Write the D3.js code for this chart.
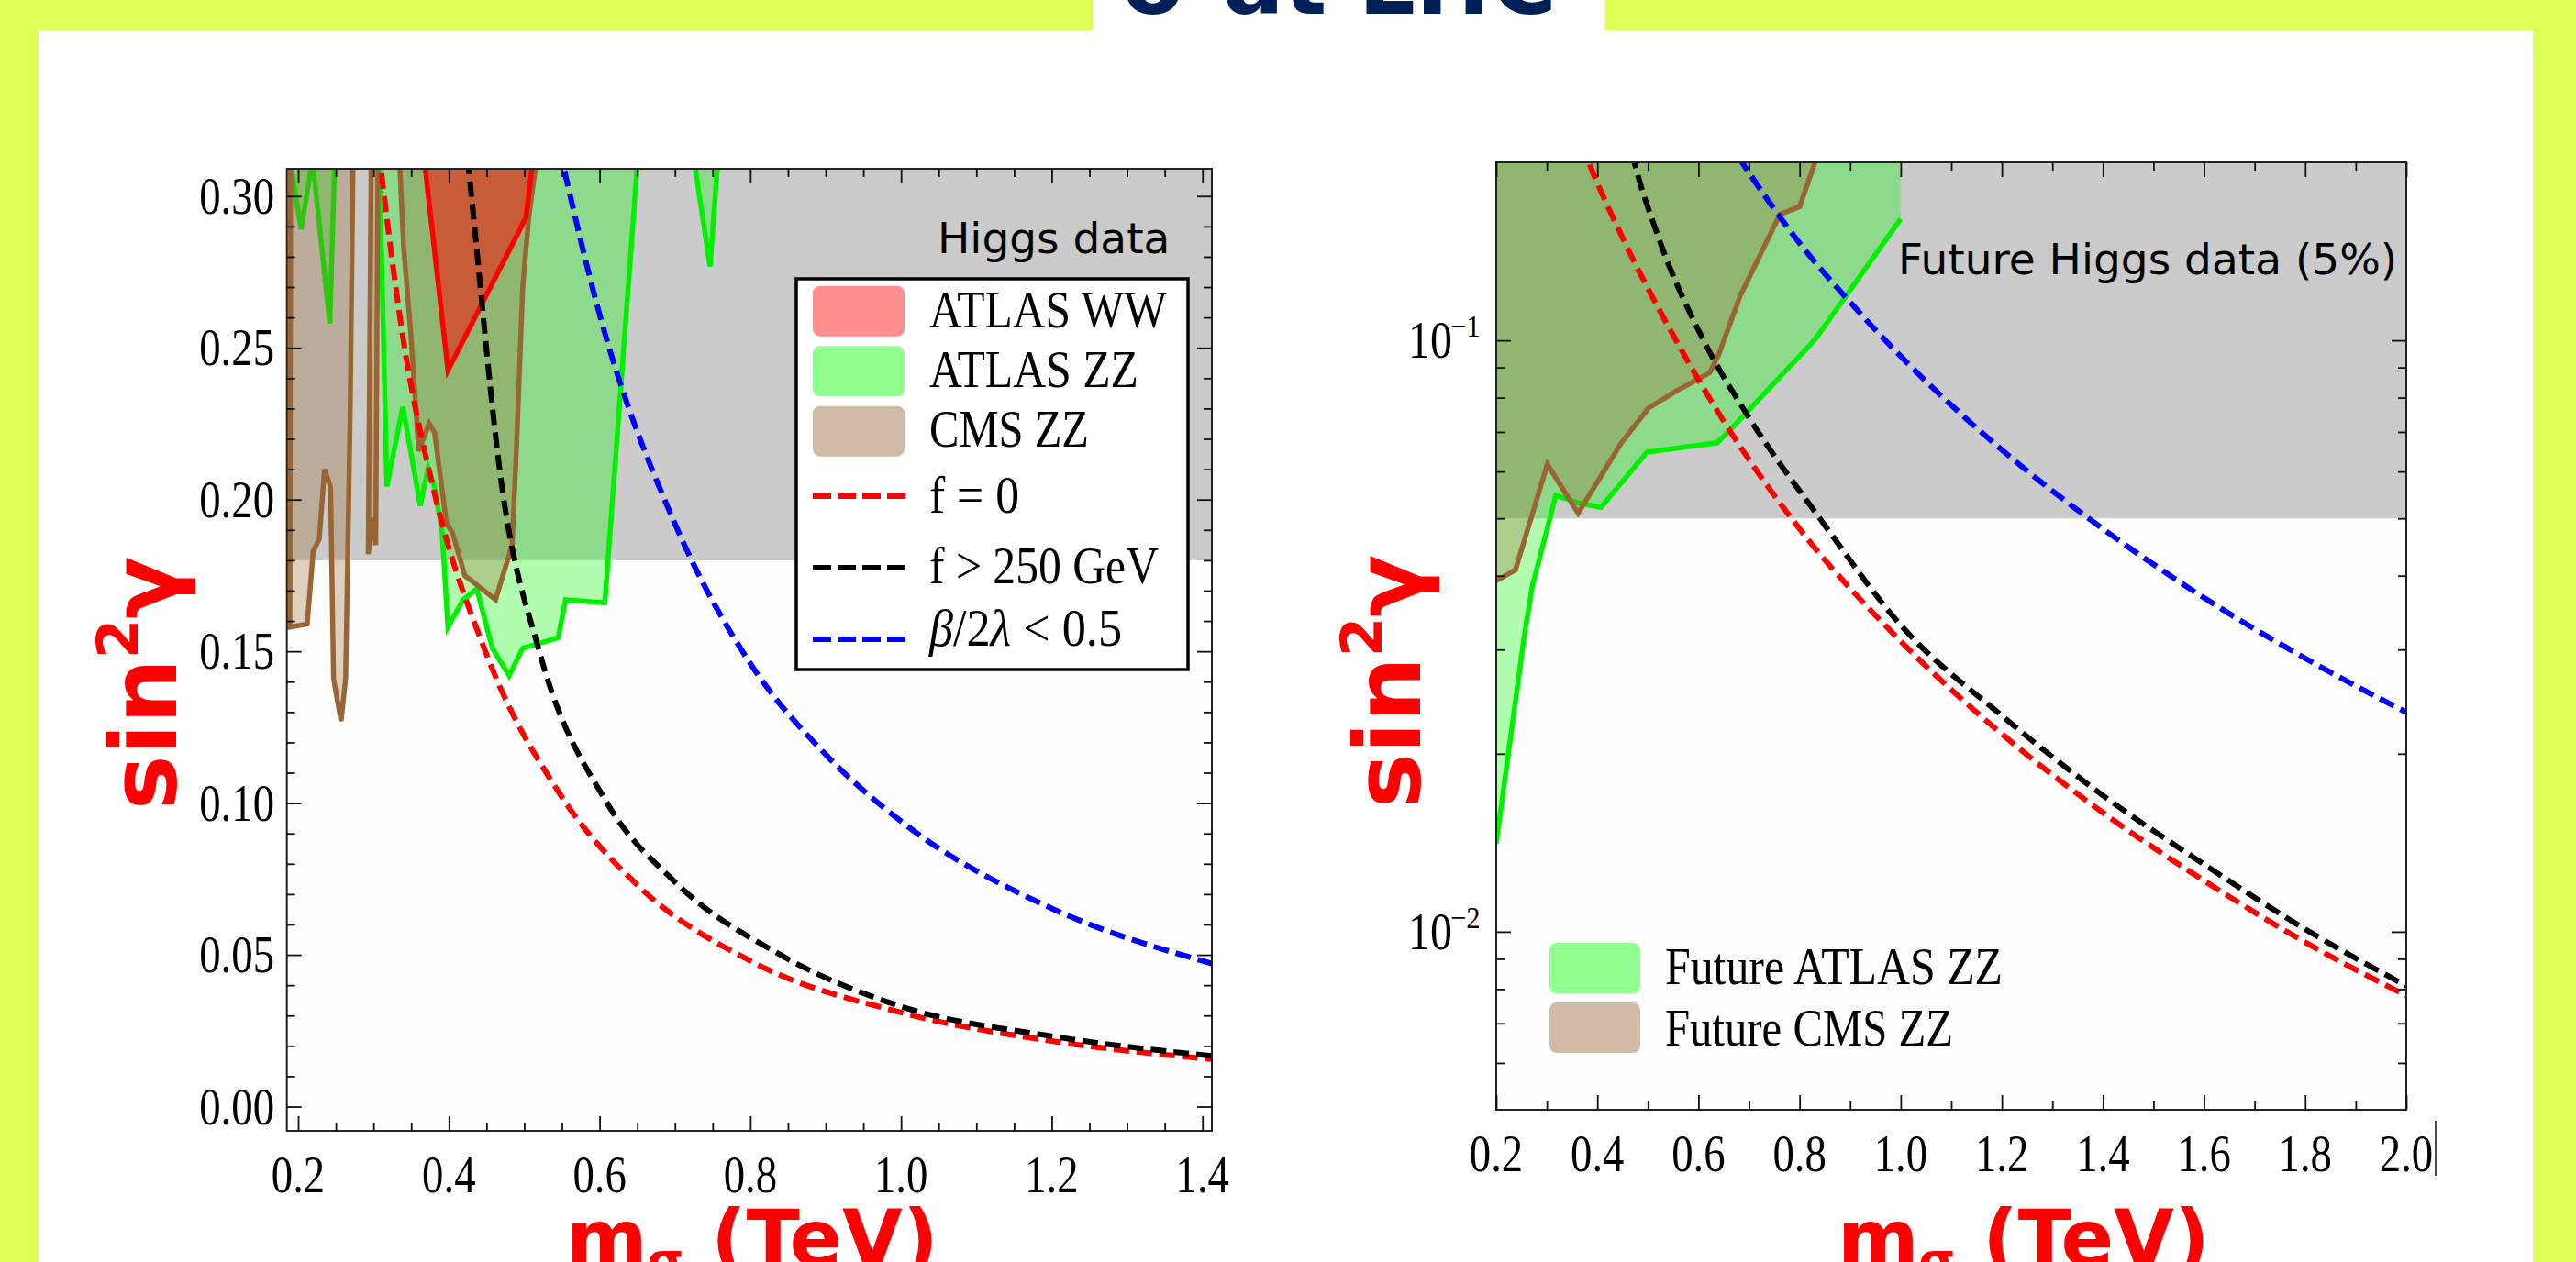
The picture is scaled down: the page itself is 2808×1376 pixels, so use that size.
<!DOCTYPE html>
<html>
<head>
<meta charset="utf-8">
<script src="https://cdn.jsdelivr.net/npm/d3@7"></script>
<style>
  html, body { margin: 0; padding: 0; background: #ddff55; overflow: hidden; }
  svg { display: block; }
</style>
</head>
<body>
<div id="chart"></div>
<script>
// ---------- values ----------
const titleText = 'σ at LHC';

// left panel (current data), linear axes
const leftXTicks = [0.2, 0.4, 0.6, 0.8, 1.0, 1.2, 1.4];
const leftXLabels = ['0.2', '0.4', '0.6', '0.8', '1.0', '1.2', '1.4'];
const leftYTicks = [0, 0.05, 0.10, 0.15, 0.20, 0.25, 0.30];
const leftYLabels = ['0.00', '0.05', '0.10', '0.15', '0.20', '0.25', '0.30'];
const leftHiggsBound = 0.18;

// boundaries [m (TeV), sin^2 gamma]; regions fill upward to the top of the frame
const atlasZZ_w = [[0.187, 0.315], [0.204, 0.289], [0.219, 0.312], [0.242, 0.258], [0.249, 0.315]];
const atlasZZ_lobe = [[0.3075, 0.315], [0.3177, 0.2043], [0.339, 0.2305], [0.362, 0.198], [0.3725, 0.2104],
  [0.3805, 0.2043], [0.3908, 0.190], [0.3988, 0.158], [0.419, 0.167], [0.437, 0.1706], [0.4577, 0.151],
  [0.480, 0.142], [0.498, 0.151], [0.545, 0.1545], [0.555, 0.167], [0.607, 0.166], [0.6515, 0.315]];
const atlasZZ_spike = [[0.7234, 0.315], [0.7466, 0.2768], [0.758, 0.315]];
const cmsZZ_left = [[0.190, 0.315], [0.189, 0.158], [0.212, 0.159], [0.220, 0.183], [0.228, 0.187],
  [0.235, 0.210], [0.243, 0.204], [0.247, 0.141], [0.257, 0.127], [0.263, 0.141], [0.269, 0.228], [0.273, 0.315]];
const cmsZZ_spike = [[0.297, 0.315], [0.293, 0.182], [0.299, 0.194], [0.303, 0.185], [0.306, 0.315]];
const cmsZZ_lobe = [[0.334, 0.315], [0.340, 0.283], [0.350, 0.253], [0.360, 0.216], [0.374, 0.225],
  [0.381, 0.222], [0.397, 0.192], [0.405, 0.189], [0.421, 0.175], [0.462, 0.167], [0.484, 0.185],
  [0.490, 0.219], [0.498, 0.270], [0.506, 0.293], [0.518, 0.315]];
const atlasWW = [[0.366, 0.315], [0.3988, 0.2426], [0.5023, 0.2929], [0.513, 0.315]];

// right panel (future projections), log y axis
const rightXTicks = [0.2, 0.4, 0.6, 0.8, 1.0, 1.2, 1.4, 1.6, 1.8, 2.0];
const rightXLabels = ['0.2', '0.4', '0.6', '0.8', '1.0', '1.2', '1.4', '1.6', '1.8', '2.0'];
const rightYTicks = [0.01, 0.1];
const rightYExp = ['−2', '−1'];
const rightHiggsBound = 0.05;

const futureAtlasZZ = [[0.2, 0.0141], [0.254, 0.031], [0.271, 0.0383], [0.318, 0.0547], [0.362, 0.0531],
  [0.407, 0.0522], [0.498, 0.0647], [0.637, 0.0671], [0.664, 0.0707], [0.8305, 0.1003], [1.0, 0.1604]];
const futureCmsZZ = [[0.2, 0.0392], [0.238, 0.0409], [0.301, 0.0617], [0.362, 0.051], [0.447, 0.067],
  [0.501, 0.0768], [0.555, 0.082], [0.622, 0.0881], [0.640, 0.0946], [0.682, 0.1186], [0.761, 0.1633],
  [0.800, 0.1683], [0.8305, 0.2]];

// theory curves (same in both panels)
const fZeroMass = [0.30, 0.34, 0.38, 0.45, 0.55, 0.65, 0.80, 1.00, 1.20, 1.40, 1.60, 1.80, 2.00];
const fZeroVal = [0.330, 0.252, 0.203, 0.149, 0.102, 0.073, 0.048, 0.031, 0.0216, 0.0159, 0.0122, 0.0096, 0.0078];
const f250Mass = [0.41, 0.43, 0.47, 0.52, 0.61, 0.70, 0.84, 1.00, 1.20, 1.40, 1.60, 1.80, 2.00];
const f250Val = [0.350, 0.300, 0.205, 0.150, 0.100, 0.074, 0.050, 0.0330, 0.0232, 0.0170, 0.0130, 0.0101, 0.0081];
const betaMass = [0.54, 0.60, 0.70, 0.80, 0.90, 1.00, 1.20, 1.40, 1.60, 1.80, 2.00];
const betaVal = [0.323, 0.261, 0.192, 0.146, 0.116, 0.094, 0.0653, 0.048, 0.0367, 0.029, 0.0235];

const leftLegendFills = ['ATLAS WW', 'ATLAS ZZ', 'CMS ZZ'];
const leftLegendLines = ['f = 0', 'f > 250 GeV', 'β/2λ < 0.5'];
const rightLegendFills = ['Future ATLAS ZZ', 'Future CMS ZZ'];

// ---------- styles ----------
const GREEN = { fill: 'rgba(0,255,0,0.3)', stroke: '#00f000', swatch: '#8fff8f' };
const BROWN = { fill: 'rgba(153,102,51,0.3)', stroke: '#996633', swatch: '#d2bba5' };
const RED = { fill: 'rgba(255,0,0,0.5)', stroke: '#ff0000', swatch: '#ff8f8f' };
const SERIF = '"Liberation Serif", "Times New Roman", serif';
const SANS = '"DejaVu Sans", sans-serif';

const W = 2808, H = 1376;
const svg = d3.select('#chart').append('svg').attr('width', W).attr('height', H);

svg.append('rect').attr('width', W).attr('height', H).attr('fill', '#ddff55');
svg.append('rect').attr('x', 42).attr('y', 33).attr('width', 2719).attr('height', H).attr('fill', '#fff');
svg.append('rect').attr('x', 1191).attr('y', 0).attr('width', 559).attr('height', 40).attr('fill', '#fff');

svg.append('text')
  .attr('x', 1460).attr('y', 15)
  .attr('text-anchor', 'middle')
  .attr('font-family', SANS).attr('font-weight', 'bold').attr('font-size', 98)
  .attr('fill', '#002157')
  .text(titleText);

// serif text squeezed horizontally like the original figure
function serif(g, x, y, str, size, anchor, sx) {
  return g.append('text')
    .attr('transform', 'translate(' + x + ',' + y + ') scale(' + (sx || 0.84) + ',1)')
    .attr('text-anchor', anchor || 'start')
    .attr('font-family', SERIF)
    .attr('font-size', size)
    .attr('fill', '#000')
    .text(str);
}

// legend text pinned to the width measured on the figure
function legendText(g, x, y, str, width) {
  return g.append('text')
    .attr('x', x).attr('y', y)
    .attr('font-family', SERIF).attr('font-size', 57).attr('fill', '#000')
    .attr('textLength', width).attr('lengthAdjust', 'spacingAndGlyphs')
    .text(str);
}

function toPairs(ms, vs) {
  return ms.map((m, i) => [m, vs[i]]);
}

function drawRegion(g, x, y, pts, topV, style) {
  const line = d3.line().x(d => x(d[0])).y(d => y(d[1]));
  const first = pts[0], last = pts[pts.length - 1];
  const poly = pts.concat([[last[0], topV], [first[0], topV]]);
  g.append('path').attr('d', line(poly) + 'Z').attr('fill', style.fill).attr('stroke', 'none');
  g.append('path').attr('d', line(pts))
    .attr('fill', 'none').attr('stroke', style.stroke)
    .attr('stroke-width', 5.5).attr('stroke-linejoin', 'miter');
}

function drawCurve(g, x, y, pts, color) {
  const line = d3.line().curve(d3.curveMonotoneX).x(d => x(d[0])).y(d => y(d[1]));
  g.append('path').attr('d', line(pts))
    .attr('fill', 'none').attr('stroke', color)
    .attr('stroke-width', 6).attr('stroke-dasharray', '17 8');
}

// inward ticks on one side of the frame
function ticks(g, scale, side, pos, values, len) {
  let ax;
  if (side === 'left') ax = d3.axisLeft(scale);
  if (side === 'right') ax = d3.axisRight(scale);
  if (side === 'top') ax = d3.axisTop(scale);
  if (side === 'bottom') ax = d3.axisBottom(scale);
  ax.tickValues(values).tickFormat('').tickSize(-len).tickSizeOuter(0);
  const tr = (side === 'left' || side === 'right') ? 'translate(' + pos + ',0)' : 'translate(0,' + pos + ')';
  const a = g.append('g').attr('transform', tr).call(ax);
  a.select('.domain').remove();
  a.selectAll('line').attr('stroke', '#111').attr('stroke-width', 1.8);
}

function drawPanel(o) {
  const g = svg.append('g');
  const b = o.box;
  g.append('clipPath').attr('id', o.id).append('rect')
    .attr('x', b.x0).attr('y', b.y0).attr('width', b.x1 - b.x0).attr('height', b.y1 - b.y0);
  const plot = g.append('g').attr('clip-path', 'url(#' + o.id + ')');

  plot.append('rect').attr('x', b.x0).attr('y', b.y0)
    .attr('width', b.x1 - b.x0).attr('height', b.y1 - b.y0).attr('fill', '#fdfdfd');
  plot.append('rect').attr('x', b.x0).attr('y', b.y0)
    .attr('width', b.x1 - b.x0).attr('height', o.y(o.higgs) - b.y0).attr('fill', '#cbcbcb');

  o.regions.forEach(r => drawRegion(plot, o.x, o.y, r.pts, o.topV, r.style));

  drawCurve(plot, o.x, o.y, toPairs(fZeroMass, fZeroVal), '#ff0000');
  drawCurve(plot, o.x, o.y, toPairs(f250Mass, f250Val), '#000000');
  drawCurve(plot, o.x, o.y, toPairs(betaMass, betaVal), '#0000ff');

  g.append('text')
    .attr('x', o.note.x).attr('y', o.note.y)
    .attr('font-family', SANS).attr('font-size', 47).attr('fill', '#000')
    .text(o.note.text);

  // frame
  g.append('rect').attr('x', b.x0).attr('y', b.y0)
    .attr('width', b.x1 - b.x0).attr('height', b.y1 - b.y0)
    .attr('fill', 'none').attr('stroke', '#222').attr('stroke-width', 2);

  ticks(g, o.x, 'bottom', b.y1, o.xMajor, 16);
  ticks(g, o.x, 'top', b.y0, o.xMajor, 16);
  ticks(g, o.x, 'bottom', b.y1, o.xMinor, 9);
  ticks(g, o.x, 'top', b.y0, o.xMinor, 9);
  ticks(g, o.y, 'left', b.x0, o.yMajor, 16);
  ticks(g, o.y, 'right', b.x1, o.yMajor, 16);
  ticks(g, o.y, 'left', b.x0, o.yMinor, 9);
  ticks(g, o.y, 'right', b.x1, o.yMinor, 9);

  // x tick labels
  o.xMajor.forEach((t, i) => serif(g, o.x(t), o.xLabelY, o.xLabels[i], 57, 'middle', 0.82));

  // axis titles
  const yt = g.append('text')
    .attr('transform', 'translate(' + o.yTitle.x + ',' + o.yTitle.y + ') rotate(-90)')
    .attr('font-family', SANS).attr('font-weight', 'bold').attr('font-size', 100).attr('fill', '#ff0000');
  yt.append('tspan').text('sin');
  yt.append('tspan').attr('font-size', 62).attr('dy', -42).text('2');
  yt.append('tspan').attr('font-size', 100).attr('dy', 42).text('γ');

  const xt = g.append('text')
    .attr('x', o.xTitle.x).attr('y', o.xTitle.y)
    .attr('font-family', SANS).attr('font-weight', 'bold').attr('font-size', 85).attr('fill', '#ff0000');
  xt.append('tspan').text('m');
  xt.append('tspan').attr('font-size', 51).attr('dy', 12).text('σ');
  xt.append('tspan').attr('font-size', 85).attr('dy', -12).text(' (TeV)');

  return g;
}

// ---------- left panel ----------
const boxL = { x0: 312.7, x1: 1321, y0: 184, y1: 1233 };
const xL = d3.scaleLinear().domain([0.185, 1.4125]).range([boxL.x0, boxL.x1]);
const yL = d3.scaleLinear().domain([-0.008, 0.309]).range([boxL.y1, boxL.y0]);

const gLeft = drawPanel({
  id: 'clipL', box: boxL, x: xL, y: yL, higgs: leftHiggsBound, topV: 0.315,
  regions: [
    { pts: atlasZZ_w, style: GREEN },
    { pts: atlasZZ_lobe, style: GREEN },
    { pts: atlasZZ_spike, style: GREEN },
    { pts: cmsZZ_left, style: BROWN },
    { pts: cmsZZ_spike, style: BROWN },
    { pts: cmsZZ_lobe, style: BROWN },
    { pts: atlasWW, style: RED }
  ],
  note: { x: 1022, y: 276, text: 'Higgs data' },
  xMajor: leftXTicks, xLabels: leftXLabels,
  xMinor: d3.range(0.25, 1.4, 0.05).filter(v => Math.abs(v * 5 - Math.round(v * 5)) > 1e-6),
  yMajor: leftYTicks,
  yMinor: d3.range(0.01, 0.30, 0.01).filter(v => Math.abs(v * 20 - Math.round(v * 20)) > 1e-6),
  xLabelY: 1300,
  yTitle: { x: 192, y: 883 },
  xTitle: { x: 617, y: 1380 }
});
leftYTicks.forEach((t, i) => serif(gLeft, 299, yL(t) + 19, leftYLabels[i], 57, 'end', 0.82));

// left legend
const legL = gLeft.append('g');
legL.append('rect').attr('x', 868).attr('y', 304).attr('width', 427).attr('height', 426)
  .attr('fill', '#fff').attr('stroke', '#000').attr('stroke-width', 3.5);
const swTop = [311.7, 377.3, 442.7];
const swBase = [356.7, 421.7, 487];
const swWidth = [259, 228, 174];
[RED, GREEN, BROWN].forEach((s, i) => {
  legL.append('rect').attr('x', 886).attr('y', swTop[i]).attr('width', 100).attr('height', 55)
    .attr('rx', 8).attr('fill', s.swatch);
  legendText(legL, 1013, swBase[i], leftLegendFills[i], swWidth[i]);
});
const lnY = [541, 619, 697];
const lnBase = [559, 636, 704];
const lnWidth = [98, 250, 210];
['#ff0000', '#000000', '#0000ff'].forEach((c, i) => {
  legL.append('line').attr('x1', 886).attr('x2', 987).attr('y1', lnY[i]).attr('y2', lnY[i])
    .attr('stroke', c).attr('stroke-width', 6).attr('stroke-dasharray', '20 7');
  if (i < 2) {
    legendText(legL, 1013, lnBase[i], leftLegendLines[i], lnWidth[i]);
  } else {
    const t = legendText(legL, 1013, lnBase[i], '', lnWidth[i]);
    t.append('tspan').attr('font-style', 'italic').text('β');
    t.append('tspan').text('/2');
    t.append('tspan').attr('font-style', 'italic').text('λ');
    t.append('tspan').text(' < 0.5');
  }
});

// ---------- right panel ----------
const boxR = { x0: 1631, x1: 2623, y0: 177, y1: 1210 };
const xR = d3.scaleLinear().domain([0.2, 2.0]).range([boxR.x0, boxR.x1]);
const yR = d3.scaleLog().domain([0.005, 0.2]).range([boxR.y1, boxR.y0]);

const gRight = drawPanel({
  id: 'clipR', box: boxR, x: xR, y: yR, higgs: rightHiggsBound, topV: 0.21,
  regions: [
    { pts: futureAtlasZZ, style: GREEN },
    { pts: futureCmsZZ, style: BROWN }
  ],
  note: { x: 2069, y: 299, text: 'Future Higgs data (5%)' },
  xMajor: rightXTicks, xLabels: rightXLabels,
  xMinor: d3.range(0.3, 2.0, 0.2),
  yMajor: rightYTicks,
  yMinor: [0.006, 0.007, 0.008, 0.009, 0.02, 0.03, 0.04, 0.05, 0.06, 0.07, 0.08, 0.09],
  xLabelY: 1277,
  yTitle: { x: 1548, y: 881 },
  xTitle: { x: 2003, y: 1380 }
});
rightYTicks.forEach((t, i) => {
  serif(gRight, 1535, yR(t) + 19, '10', 57, 'start', 0.84);
  serif(gRight, 1581, yR(t) - 4, rightYExp[i], 34, 'start', 0.9);
});

// stray rule right of the "2.0" label in the original
gRight.append('line').attr('x1', 2655).attr('x2', 2655).attr('y1', 1222).attr('y2', 1282)
  .attr('stroke', '#111').attr('stroke-width', 1.5);

// right legend (no frame)
const legR = gRight.append('g');
const rTop = [1028, 1093];
const rBase = [1073, 1140];
const rWidth = [368, 314];
[GREEN, BROWN].forEach((s, i) => {
  legR.append('rect').attr('x', 1689).attr('y', rTop[i]).attr('width', 99).attr('height', 55)
    .attr('rx', 8).attr('fill', s.swatch);
  legendText(legR, 1815, rBase[i], rightLegendFills[i], rWidth[i]);
});
</script>
</body>
</html>
